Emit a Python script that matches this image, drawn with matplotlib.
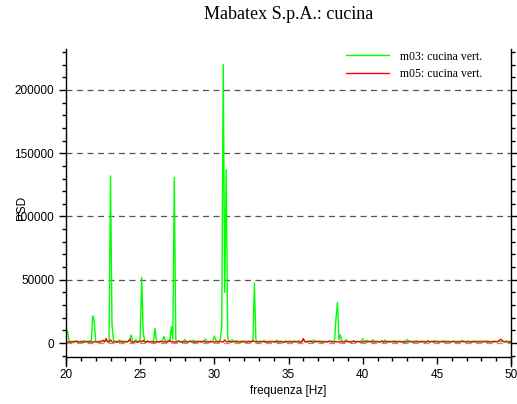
import numpy as np
import matplotlib
matplotlib.use("Agg")
import matplotlib.pyplot as plt
from matplotlib.ticker import MultipleLocator

# spectrum sampled every 0.1 Hz from 20 to 50 Hz
freq = np.linspace(20.0, 50.0, 301)

# m03: cucina vert. (one row per Hz)
m03 = [
    11000, 9500, 1500, 1200, 900, 1600, 1100, 1800, 1300, 1000,
    1500, 1200, 2000, 1400, 1000, 1300, 1800, 1100, 21500, 17500,
    1200, 900, 1500, 1100, 1300, 2200, 1400, 1900, 1200, 1600,
    132000, 14000, 2000, 1200, 1500, 1000, 2400, 1200, 1700, 1000,
    1500, 1200, 1000, 2500, 6300, 1400, 1000, 2600, 1200, 1500,
    2500, 52000, 9000, 1500, 1200, 1800, 1000, 1300, 1100, 1600,
    11500, 1500, 1000, 1400, 1200, 1800, 5200, 1300, 1600, 2000,
    1500, 13000, 3000, 131000, 2500, 1200, 1500, 1000, 1300, 1200,
    2800, 1000, 1400, 1200, 1800, 1100, 2200, 1300, 1000, 1500,
    1200, 1700, 1100, 1400, 3200, 1200, 1000, 1500, 1300, 1600,
    5500, 2000, 1200, 1500, 2500, 14000, 220000, 40000, 137000, 3500,
    1500, 1200, 2600, 1400, 1100, 1800, 1000, 1300, 1500, 1200,
    1800, 1100, 1400, 1000, 1600, 1200, 2000, 47500, 2500, 1300,
    1200, 1600, 1000, 1400, 1800, 1100, 1300, 1000, 1500, 1200,
    1400, 1000, 2200, 1200, 1500, 1100, 1300, 1000, 1700, 1200,
    1300, 1500, 1100, 1600, 1000, 1400, 1200, 1800, 1000, 1300,
    2000, 1200, 1500, 1000, 1400, 1800, 1100, 2300, 1200, 1500,
    1000, 1400, 1200, 1700, 1100, 1300, 1000, 1500, 1200, 1600,
    1300, 1800, 19000, 32000, 2500, 6500, 1500, 1200, 1600, 2600,
    1300, 1000, 1500, 1200, 1800, 1100, 1400, 1000, 1300, 1600,
    3200, 1500, 1200, 2200, 1400, 1000, 1600, 2600, 1200, 1500,
    1100, 1400, 1000, 1700, 1200, 2400, 1300, 1000, 1500, 1200,
    1400, 1000, 1800, 1200, 1500, 1100, 1300, 1000, 1600, 1200,
    2800, 1800, 1300, 1100, 1500, 1200, 1700, 1000, 1400, 1200,
    1600, 1100, 1400, 1000, 1800, 1200, 1500, 1000, 2000, 1300,
    1200, 1600, 1000, 1400, 1200, 1800, 1100, 1500, 1300, 1000,
    1400, 1200, 1700, 1000, 1500, 1200, 1300, 2200, 1100, 1400,
    1000, 1600, 1200, 1400, 1100, 1800, 1000, 1300, 1500, 1200,
    1600, 1000, 1400, 1200, 1800, 1100, 1300, 1000, 1500, 1200,
    1400, 1000, 1700, 1200, 1500, 1100, 1300, 1600, 1000, 1400,
    1200,
]

# m05: cucina vert.
m05 = [
    800, 600, 1000, 500, 1200, 700, 900, 1400, 600, 1000,
    700, 1100, 500, 900, 1300, 600, 800, 1000, 500, 1200,
    900, 600, 1100, 700, 1500, 2000, 800, 3500, 1000, 600,
    2500, 900, 700, 1200, 500, 1000, 800, 1300, 600, 900,
    1100, 700, 1400, 3000, 800, 600, 1000, 1200, 500, 900,
    1500, 800, 2000, 1000, 600, 1200, 700, 900, 1300, 500,
    1000, 700, 1100, 600, 1400, 800, 900, 1200, 500, 1000,
    2200, 800, 1300, 600, 1000, 700, 1500, 900, 500, 1100,
    800, 1200, 600, 1000, 1400, 700, 900, 500, 1300, 800,
    1100, 600, 1000, 1500, 700, 900, 1200, 500, 1000, 800,
    700, 1200, 900, 600, 1400, 1000, 800, 2400, 1100, 900,
    1300, 600, 1000, 800, 1500, 700, 1100, 900, 500, 1200,
    800, 1000, 600, 1300, 900, 700, 2000, 1200, 800, 1000,
    600, 1100, 900, 1400, 700, 1000, 500, 1200, 800, 1000,
    900, 700, 1300, 600, 1000, 1200, 800, 500, 1100, 900,
    700, 1200, 1000, 600, 1400, 800, 900, 1100, 500, 1000,
    3500, 1000, 700, 1300, 900, 1500, 600, 1000, 800, 1200,
    900, 1400, 600, 1000, 800, 1200, 700, 1100, 1500, 800,
    1000, 700, 1200, 900, 600, 1400, 800, 1000, 700, 1300,
    900, 1100, 600, 1000, 1500, 800, 700, 1200, 900, 600,
    1000, 800, 1300, 700, 1100, 900, 1400, 600, 1000, 800,
    1200, 700, 900, 1500, 600, 1000, 800, 1300, 700, 1100,
    900, 1400, 600, 1000, 800, 1200, 700, 1100, 500, 900,
    1000, 700, 1300, 900, 600, 1100, 800, 1400, 700, 1000,
    800, 1200, 600, 1000, 1500, 700, 900, 1100, 600, 1300,
    900, 700, 1100, 800, 1400, 600, 1000, 900, 1200, 700,
    1000, 1300, 700, 900, 600, 1100, 800, 1400, 900, 1000,
    700, 1200, 900, 600, 1000, 800, 1300, 700, 1100, 900,
    1000, 700, 1400, 900, 600, 1200, 800, 1000, 700, 1300,
    900, 1100, 1800, 3000, 2200, 1000, 700, 1200, 800, 600,
    900,
]

fig = plt.figure(figsize=(5.17, 4.04), dpi=100)
ax = fig.add_axes([0.1277, 0.0946, 0.8607, 0.7829])

# dashed reference lines at the major y ticks
for yv in [0, 50000, 100000, 150000, 200000]:
    ax.axhline(yv, color="#555555" if yv else "#999999", lw=0.9,
               dashes=(4.8, 3.6), zorder=0)

ax.plot(freq, m03, color="#00ff00", lw=1.0, label="m03: cucina vert.")
ax.plot(freq, m05, color="red", lw=1.0, label="m05: cucina vert.")

ax.set_xlim(20, 50)
ax.set_ylim(-18000, 232000)
ax.xaxis.set_major_locator(MultipleLocator(5))
ax.xaxis.set_minor_locator(MultipleLocator(1))
ax.yaxis.set_major_locator(MultipleLocator(50000))
ax.yaxis.set_minor_locator(MultipleLocator(10000))

ax.spines["top"].set_visible(False)
ax.spines["bottom"].set_position(("data", -11000))
for s in ax.spines.values():
    s.set_linewidth(1.0)

ax.tick_params(which="both", direction="out", right=True, top=False,
               labelright=False, labelsize=8.5, width=1.0)
ax.tick_params(which="major", length=5)
ax.tick_params(which="minor", length=3)
for lab in ax.get_xticklabels() + ax.get_yticklabels():
    lab.set_family("Liberation Sans")

ax.set_xlabel("frequenza [Hz]", fontsize=8.5, family="Liberation Sans", labelpad=3)
ax.set_ylabel("PSD", fontsize=8.5, family="Liberation Sans", labelpad=-10)

fig.suptitle("Mabatex S.p.A.: cucina", x=0.558, y=0.985, fontsize=13,
             family="Liberation Serif")

leg = ax.legend(loc="upper right", bbox_to_anchor=(0.96, 1.03), frameon=False,
                prop={"family": "Liberation Serif", "size": 8.5}, handlelength=3.6,
                handletextpad=1.0, labelspacing=0.45)

fig.savefig("out.png", dpi=100)
